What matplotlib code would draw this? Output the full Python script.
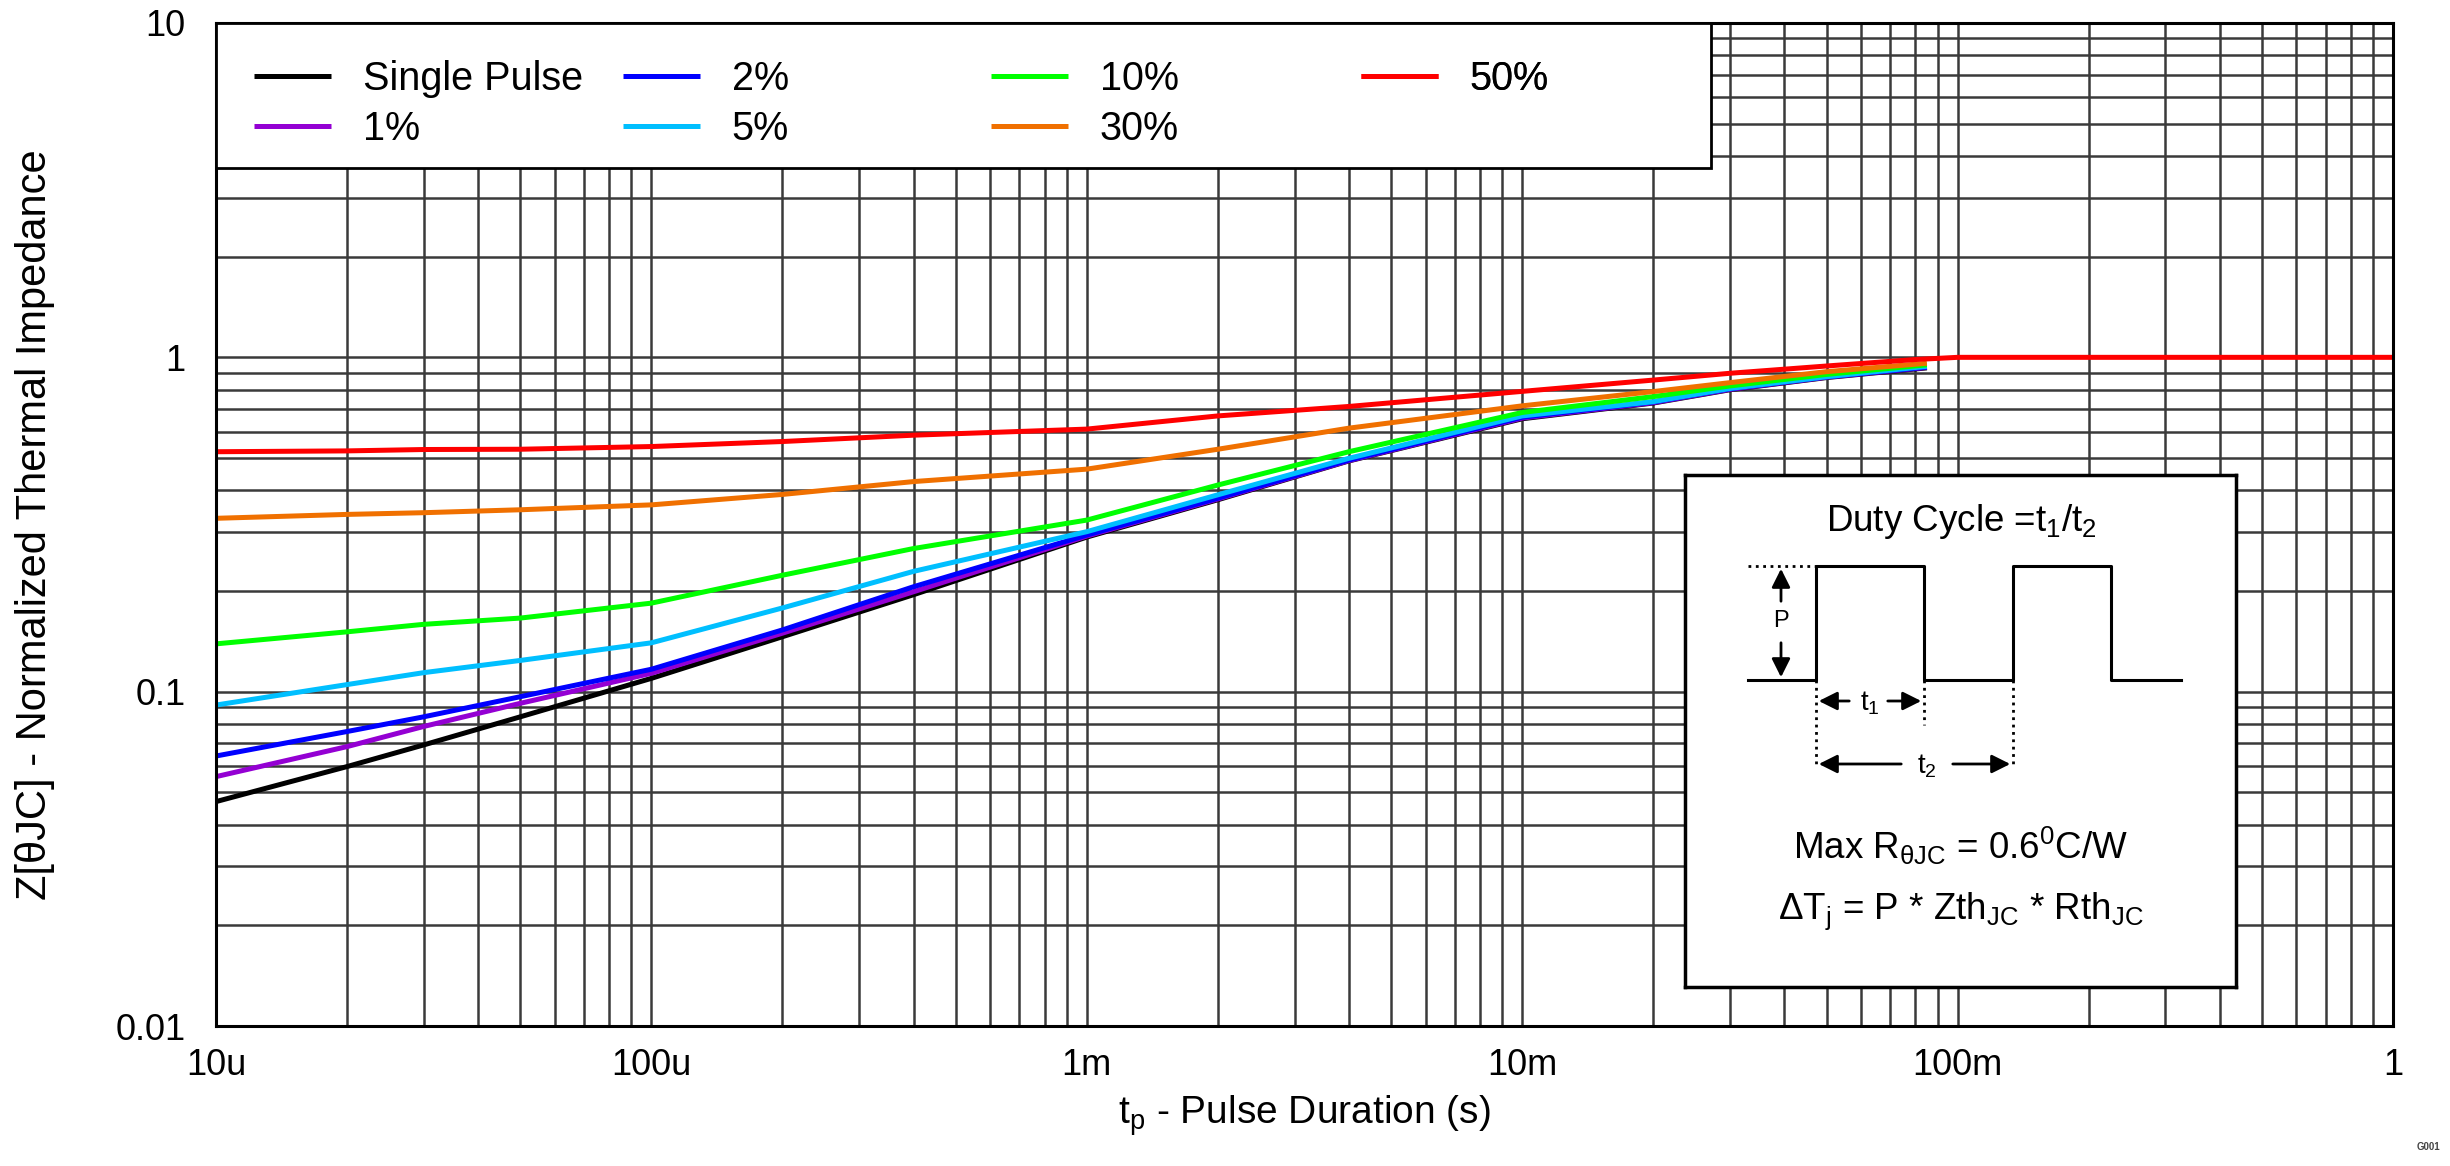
import numpy as np
import matplotlib
matplotlib.use('Agg')
import matplotlib.pyplot as plt
from matplotlib.patches import Rectangle

plt.rcParams['font.family'] = ['Liberation Sans', 'DejaVu Sans']
plt.rcParams['mathtext.fontset'] = 'custom'
plt.rcParams['mathtext.rm'] = 'Liberation Sans'
plt.rcParams['mathtext.it'] = 'Liberation Sans'

# pulse duration (s), shared by the duty-cycle curves
tp = [10e-6, 20e-6, 30e-6, 50e-6, 100e-6, 200e-6, 400e-6,
      1e-3, 2e-3, 4e-3, 10e-3, 20e-3, 30e-3, 50e-3, 85e-3]

single_pulse = [0.0469, 0.0597, 0.0693, 0.0841, 0.1096, 0.146, 0.195,
                0.290, 0.375, 0.490, 0.655, 0.730, 0.800, 0.870, 0.930]
duty_1 = [0.0557, 0.0685, 0.0787, 0.0923, 0.1135, 0.1496, 0.199,
          0.292, 0.377, 0.491, 0.658, 0.732, 0.802, 0.872, 0.933]
duty_2 = [0.0642, 0.0760, 0.0841, 0.0966, 0.1167, 0.153, 0.206,
          0.294, 0.379, 0.493, 0.662, 0.735, 0.805, 0.874, 0.935]
duty_5 = [0.0912, 0.105, 0.114, 0.124, 0.140, 0.178, 0.229,
          0.301, 0.388, 0.499, 0.668, 0.737, 0.807, 0.875, 0.940]
duty_10 = [0.139, 0.151, 0.159, 0.166, 0.184, 0.223, 0.268,
           0.326, 0.415, 0.522, 0.684, 0.763, 0.821, 0.889, 0.950]
duty_30 = [0.330, 0.339, 0.343, 0.350, 0.362, 0.389, 0.425,
           0.463, 0.531, 0.614, 0.716, 0.790, 0.840, 0.906, 0.960]

# 50% curve runs on to 1 s
tp_50 = [10e-6, 20e-6, 30e-6, 50e-6, 100e-6, 200e-6, 400e-6,
         1e-3, 2e-3, 4e-3, 10e-3, 20e-3, 30e-3, 50e-3, 80e-3, 100e-3, 1.0]
duty_50 = [0.522, 0.525, 0.530, 0.531, 0.541, 0.560, 0.585,
           0.610, 0.668, 0.713, 0.791, 0.855, 0.896, 0.942, 0.985, 1.0, 1.0]

labels = ['Single Pulse', '1%', '2%', '5%', '10%', '30%', '50%']
colors = ['#000000', '#9400D3', '#0000FF', '#00BFFF', '#00FF00', '#F07000', '#FF0000']

xtick_vals = [1e-5, 1e-4, 1e-3, 1e-2, 1e-1, 1]
xtick_labels = ['10u', '100u', '1m', '10m', '100m', '1']
ytick_vals = [0.01, 0.1, 1, 10]
ytick_labels = ['0.01', '0.1', '1', '10']

W, H = 2450, 1166
fig = plt.figure(figsize=(W / 100, H / 100), dpi=100)
L, R, T, B = 216, 2393, 23, 1026
ax = fig.add_axes([L / W, (H - B) / H, (R - L) / W, (B - T) / H])

series = [single_pulse, duty_1, duty_2, duty_5, duty_10, duty_30]
handles = []
for z, c, lab in zip(series, colors[:6], labels[:6]):
    h, = ax.plot(tp, z, color=c, lw=3.6, label=lab, solid_capstyle='butt')
    handles.append(h)
h, = ax.plot(tp_50, duty_50, color=colors[6], lw=3.6, label=labels[6], solid_capstyle='butt')
handles.append(h)

ax.set_xscale('log')
ax.set_yscale('log')
ax.set_xlim(1e-5, 1)
ax.set_ylim(0.01, 10)
ax.set_xticks(xtick_vals, xtick_labels)
ax.set_yticks(ytick_vals, ytick_labels)
ax.grid(True, which='both', color='#3a3a3a', lw=1.8)
ax.tick_params(which='both', length=0, labelsize=26)
ax.tick_params(axis='x', pad=16)
ax.tick_params(axis='y', pad=22)
for s in ax.spines.values():
    s.set_linewidth(2.2)
    s.set_color('black')

ax.set_xlabel(r'$\mathregular{t_p}$ - Pulse Duration (s)', fontsize=28)
ax.set_ylabel('Z[θJC] - Normalized Thermal Impedance', fontsize=30)
ax.xaxis.set_label_coords(0.5, -0.067)
ax.yaxis.set_label_coords(-0.074, 0.5)

# legend box covering the grid
ax.add_patch(Rectangle((0, (B - 168) / (B - T)), (1711 - L) / (R - L), 1 - (B - 168) / (B - T),
                       transform=ax.transAxes, facecolor='white', edgecolor='black',
                       lw=2, zorder=3))
col_x = [254, 623, 991, 1361]
cols = [[0, 1], [2, 3], [4, 5], [6]]
for cx, idx in zip(col_x, cols):
    leg = ax.legend([handles[i] for i in idx], [labels[i] for i in idx],
                    loc='upper left', bbox_to_anchor=((cx - L) / (R - L), (B - 60) / (B - T)),
                    frameon=False, fontsize=28.5, handlelength=1.95, handletextpad=0.8,
                    borderpad=0, borderaxespad=0, labelspacing=0.3)
    leg.set_zorder(5)
    ax.add_artist(leg)

# duty cycle inset
bx0, bx1, by0, by1 = 1685, 2236, 475, 987
ins = fig.add_axes([bx0 / W, (H - by1) / H, (bx1 - bx0) / W, (by1 - by0) / H])
ins.set_xlim(bx0, bx1)
ins.set_ylim(by1, by0)
ins.set_xticks([])
ins.set_yticks([])
for s in ins.spines.values():
    s.set_linewidth(2.5)

lo, hi = 680, 566
wx = [1748, 1816, 1816, 1924, 1924, 2013, 2013, 2111, 2111, 2181]
wy = [lo, lo, hi, hi, lo, lo, hi, hi, lo, lo]
ins.plot(wx, wy, color='black', lw=2.2)
ins.plot([1748, 1816], [hi, hi], color='black', lw=2, ls=':')
ins.plot([1816, 1816], [lo, 768], color='black', lw=2, ls=':')
ins.plot([1924, 1924], [lo, 725], color='black', lw=2, ls=':')
ins.plot([2013, 2013], [lo, 765], color='black', lw=2, ls=':')

arw = dict(arrowstyle='-|>', lw=2, color='black', mutation_scale=28)
ins.annotate('', xy=(1781, hi), xytext=(1781, 604), arrowprops=arw)
ins.annotate('', xy=(1781, lo), xytext=(1781, 640), arrowprops=arw)
ins.text(1781, 621, 'P', fontsize=17, ha='center', va='center')
ins.annotate('', xy=(1816, 701), xytext=(1852, 701), arrowprops=arw)
ins.annotate('', xy=(1924, 701), xytext=(1885, 701), arrowprops=arw)
ins.text(1870, 703, r'$\mathregular{t_1}$', fontsize=20, ha='center', va='center')
ins.annotate('', xy=(1816, 764), xytext=(1904, 764), arrowprops=arw)
ins.annotate('', xy=(2013, 764), xytext=(1950, 764), arrowprops=arw)
ins.text(1927, 766, r'$\mathregular{t_2}$', fontsize=20, ha='center', va='center')

ins.text(1961, 522, r'Duty Cycle =$\mathregular{t_1/t_2}$', fontsize=26.5, ha='center', va='center')
ins.text(1961, 846, r'Max $\mathregular{R_{θJC}}$ = 0.6$\mathregular{^0}$C/W',
         fontsize=26.5, ha='center', va='center')
ins.text(1961, 911, r'$\mathregular{ΔT_j}$ = P * $\mathregular{Zth_{JC}}$ * $\mathregular{Rth_{JC}}$',
         fontsize=26.5, ha='center', va='center')

fig.text(2440 / W, 1 - 1147 / H, 'G001', fontsize=7, ha='right', va='center',
         color='#444444', fontweight='bold')

fig.savefig('out.png', dpi=100)
